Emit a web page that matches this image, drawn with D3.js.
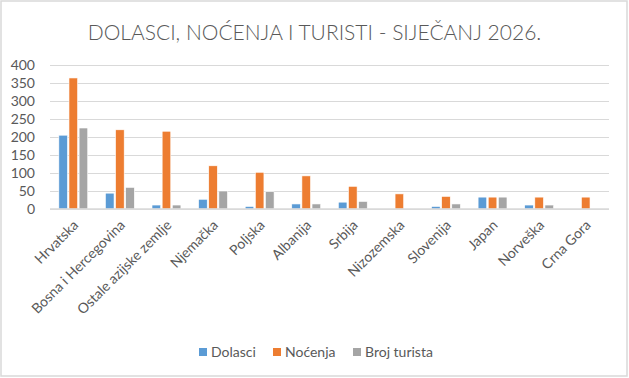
<!DOCTYPE html>
<html>
<head>
<meta charset="utf-8">
<script src="https://cdn.jsdelivr.net/npm/d3@7"></script>
<style>
  body { margin: 0; background: #fff; }
  text { font-family: Lato, "Open Sans", sans-serif; fill: #595959; }
</style>
</head>
<body>
<div id="chart"></div>
<script>
// data
const countries = ["Hrvatska", "Bosna i Hercegovina", "Ostale azijske zemlje", "Njemačka", "Poljska",
    "Albanija", "Srbija", "Nizozemska", "Slovenija", "Japan", "Norveška", "Crna Gora"];
const dolasci = [205, 44, 11, 27, 7, 14, 19, 0, 7, 33, 11, 0];
const nocenja = [364, 220, 216, 120, 102, 92, 63, 42, 35, 33, 33, 33];
const brojTurista = [225, 60, 11, 50, 48, 14, 21, 0, 14, 33, 11, 0];
const seriesNames = ["Dolasci", "Noćenja", "Broj turista"];
const yTicks = [0, 50, 100, 150, 200, 250, 300, 350, 400];

const colors = ["#5B9BD5", "#ED7D31", "#A5A5A5"];
const seriesValues = [dolasci, nocenja, brojTurista];

const W = 629, H = 378;
const margin = {top: 65, right: 20, bottom: 169, left: 50};
const width = W - margin.left - margin.right;
const height = H - margin.top - margin.bottom;

const svg = d3.select("#chart").append("svg")
    .attr("width", W)
    .attr("height", H);

// chart frame
svg.append("rect")
    .attr("x", 1).attr("y", 1)
    .attr("width", W - 3).attr("height", H - 3)
    .attr("fill", "#fff")
    .attr("stroke", "#d9d9d9")
    .attr("stroke-width", 1.5);

// title
svg.append("text")
    .attr("x", W / 2)
    .attr("y", 40)
    .attr("text-anchor", "middle")
    .attr("font-size", "21px")
    .attr("font-weight", 300)
    .text("DOLASCI, NOĆENJA I TURISTI - SIJEČANJ 2026.");

const g = svg.append("g")
    .attr("transform", "translate(" + margin.left + "," + margin.top + ")");

// scales
const x = d3.scaleBand().domain(countries).range([0, width]);
const x1 = d3.scaleBand().domain(seriesNames)
    .range([x.bandwidth() * 0.19, x.bandwidth() * 0.81])
    .paddingInner(0.15);
const y = d3.scaleLinear().domain([0, 400]).range([height, 0]);

// gridlines
g.append("g")
    .attr("class", "grid")
    .call(d3.axisLeft(y).tickValues(yTicks).tickSize(-width).tickFormat(""))
    .call(gr => gr.select(".domain").remove())
    .call(gr => gr.selectAll("line").attr("stroke", "#d9d9d9").attr("stroke-width", 1));

// y axis labels
g.append("g")
    .call(d3.axisLeft(y).tickValues(yTicks).tickSize(0).tickPadding(15))
    .call(ax => ax.select(".domain").remove())
    .call(ax => ax.selectAll("text").attr("font-size", "14px").style("font-family", "Lato, sans-serif").attr("fill", "#595959"));

// bars
const groups = g.selectAll(".country")
    .data(countries)
    .enter().append("g")
    .attr("class", "country")
    .attr("transform", d => "translate(" + x(d) + ",0)");

groups.selectAll("rect")
    .data((d, i) => seriesNames.map((s, j) => ({series: s, value: seriesValues[j][i], color: colors[j]})))
    .enter().append("rect")
    .filter(d => d.value > 0)
    .attr("x", d => x1(d.series))
    .attr("width", x1.bandwidth())
    .attr("y", d => y(d.value))
    .attr("height", d => height - y(d.value))
    .attr("fill", d => d.color)
    .attr("stroke", "#fff")
    .attr("stroke-width", 0.6);

// x axis line
g.append("line")
    .attr("x1", 0).attr("x2", width)
    .attr("y1", height).attr("y2", height)
    .attr("stroke", "#d9d9d9")
    .attr("stroke-width", 1.5);

// x axis labels, rotated
g.append("g")
    .attr("transform", "translate(0," + height + ")")
    .call(d3.axisBottom(x).tickSize(0).tickPadding(0))
    .call(ax => ax.select(".domain").remove())
    .call(ax => ax.selectAll("text")
        .attr("font-size", "14px")
        .style("font-family", "Lato, sans-serif")
        .attr("fill", "#595959")
        .attr("text-anchor", "end")
        .attr("dy", null)
        .attr("y", 0)
        .attr("transform", "translate(6,17) rotate(-45)"));

// legend
const legendX = [199, 273, 353];
const legend = svg.append("g").attr("class", "legend");
seriesNames.forEach((s, i) => {
    legend.append("rect")
        .attr("x", legendX[i]).attr("y", 348)
        .attr("width", 8).attr("height", 8)
        .attr("fill", colors[i]);
    legend.append("text")
        .attr("x", legendX[i] + 12).attr("y", 357)
        .attr("font-size", "14px")
        .text(s);
});
</script>
</body>
</html>
